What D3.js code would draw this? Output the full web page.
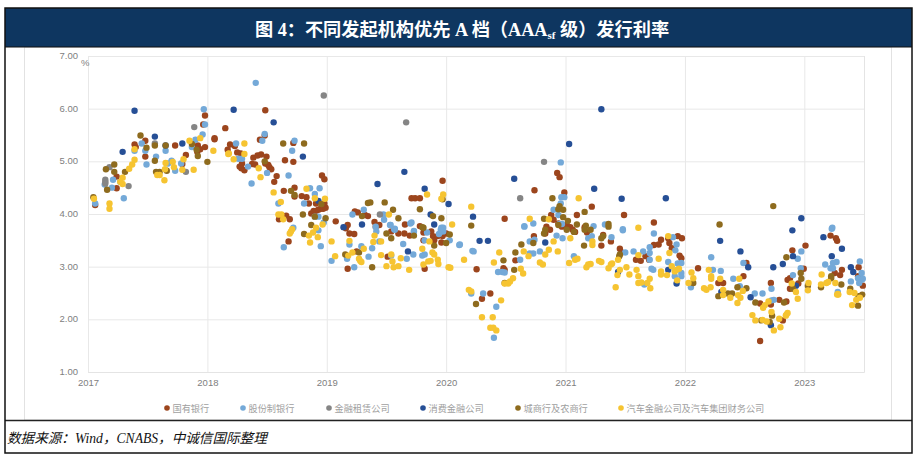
<!DOCTYPE html>
<html><head><meta charset="utf-8">
<script src="https://cdn.jsdelivr.net/npm/d3@7/dist/d3.min.js"></script>
<style>html,body{margin:0;padding:0;background:#fff}svg{display:block}</style>
</head><body><svg id="c" width="915" height="456"></svg>
<script>
// Each point: [years since start of 2017, rate in %]
const stateBanks = [[.06,4.17],[.24,4.71],[.24,4.49],[.39,5.32],[.40,5.27],[.48,5.39],[.48,5.09],[.73,5.30],[.79,4.95],[.82,5.12],[.92,5.30],[.94,5.23],[.98,5.27],[.915,5.18],[.965,5.70],[.98,5.87],[1.06,5.44],[1.06,5.42],[1.15,5.63],[1.17,5.22],[1.19,5.32],[1.23,5.29],[1.25,5.17],[1.28,5.15],[1.27,4.90],[1.29,4.96],[1.31,4.83],[1.285,4.87],[1.375,4.95],[1.40,4.94],[1.385,5.07],[1.42,5.11],[1.45,5.13],[1.495,5.09],[1.485,4.96],[1.51,4.93],[1.52,4.89],[1.535,4.85],[1.44,5.41],[1.48,5.49],[1.485,5.97],[1.58,4.72],[1.56,4.61],[1.64,4.44],[1.65,5.02],[1.72,4.99],[1.72,5.35],[1.73,4.50],[1.73,4.33],[1.79,4.34],[1.83,4.32],[1.85,4.20],[1.91,4.20],[1.87,4.01],[1.89,4.06],[1.91,4.06],[1.93,4.08],[1.95,4.10],[1.97,4.10],[1.99,4.12],[1.96,4.73],[1.98,4.66],[1.98,4.20],[1.66,3.97],[1.60,3.90],[1.69,3.90],[2.075,3.86],[2.175,3.79],[2.235,4.05],[2.26,4.03],[2.32,3.98],[2.345,3.96],[2.40,3.85],[2.44,3.79],[2.655,3.80],[2.71,4.30],[2.74,4.30],[2.78,4.30],[2.97,4.63],[1.68,3.48],[2.175,2.96],[2.82,2.96],[2.51,3.19],[2.19,3.63],[2.23,3.62],[2.25,3.29],[2.16,3.73],[2.54,3.67],[2.60,3.63],[2.65,3.63],[2.695,3.59],[2.81,3.50],[2.81,3.65],[2.875,3.67],[2.89,3.58],[2.90,3.50],[2.93,3.58],[2.96,3.46],[2.97,3.58],[3.0,3.63],[2.41,3.76],[2.78,3.77],[3.255,2.95],[3.30,2.39],[3.37,2.49],[3.49,3.91],[3.49,2.94],[3.58,3.12],[3.735,3.58],[3.74,4.45],[3.48,2.97],[3.93,4.78],[3.95,4.70],[3.99,4.41],[4.095,3.98],[4.22,4.14],[4.49,3.98],[4.74,3.84],[3.88,3.98],[3.90,3.89],[3.83,3.63],[3.87,3.70],[3.97,3.76],[4.01,3.79],[4.04,3.75],[4.06,3.70],[3.94,3.82],[3.84,3.76],[4.08,3.66],[4.16,3.75],[4.18,3.65],[4.30,3.40],[4.315,3.60],[4.38,3.48],[4.455,3.34],[4.47,3.27],[4.59,3.13],[4.63,3.11],[4.67,3.20],[4.70,3.13],[4.74,3.41],[4.78,3.42],[4.80,3.51],[4.86,3.54],[4.89,3.35],[4.87,3.45],[4.94,3.58],[4.975,3.54],[4.955,3.21],[4.97,3.16],[5.11,2.97],[5.28,2.69],[5.32,2.69],[5.49,2.82],[5.515,3.07],[5.63,1.59],[5.63,2.30],[5.72,2.69],[5.72,2.28],[5.79,2.37],[5.85,2.34],[5.82,1.98],[5.86,2.75],[5.88,2.78],[5.88,2.58],[5.90,3.31],[6.01,3.40],[5.995,2.96],[5.95,2.68],[6.22,3.59],[6.265,3.54],[6.275,3.49],[6.255,2.88],[6.315,2.94],[6.30,2.84],[6.455,2.99],[6.49,2.64],[6.45,2.82]];
const jointStockBanks = [[.06,4.20],[.30,4.30],[.21,4.65],[.14,4.56],[.20,4.5],[.27,4.61],[.39,5.20],[.45,5.34],[.48,5.20],[.49,4.94],[.57,5.09],[.65,5.20],[.67,4.96],[.70,5.01],[.73,4.82],[.78,4.96],[.87,5.27],[.90,5.41],[.96,5.51],[.97,5.99],[.98,5.70],[1.24,5.34],[1.26,5.05],[1.29,5.05],[1.34,4.90],[1.37,4.58],[1.405,6.49],[1.48,5.52],[1.46,5.39],[1.50,4.78],[1.68,4.73],[1.71,5.20],[1.73,5.39],[1.595,4.20],[1.86,4.49],[1.94,4.49],[1.90,4.38],[1.81,4.20],[1.72,3.74],[1.90,3.95],[1.93,3.95],[1.975,3.84],[2.215,3.99],[2.31,4.08],[2.41,3.76],[2.48,3.89],[2.475,3.99],[2.535,3.79],[2.57,3.72],[2.71,3.84],[2.96,3.74],[2.975,3.74],[1.64,3.37],[1.95,3.39],[2.04,3.11],[2.19,3.42],[2.17,3.15],[2.23,2.99],[2.29,3.39],[2.35,3.19],[2.38,3.35],[2.44,3.48],[2.54,3.21],[2.64,3.43],[2.67,3.15],[2.725,3.23],[2.80,3.21],[2.82,3.23],[2.82,3.50],[2.84,3.65],[2.96,3.67],[2.975,3.67],[3.03,3.50],[3.11,3.41],[2.73,3.67],[2.415,3.67],[2.57,3.70],[1.93,3.69],[2.70,3.82],[2.53,3.79],[2.565,3.71],[3.22,3.30],[2.955,3.70],[2.94,3.62],[2.73,3.68],[3.115,3.42],[3.23,3.29],[3.31,2.49],[3.21,2.49],[3.42,2.24],[3.40,1.65],[3.435,2.90],[3.47,2.90],[3.49,2.89],[3.62,3.13],[3.655,3.76],[3.73,3.25],[3.70,3.25],[3.785,3.29],[3.74,3.51],[3.70,3.48],[3.975,3.54],[3.925,3.59],[4.07,3.20],[4.19,3.54],[4.22,3.58],[4.385,3.56],[4.48,3.69],[4.50,3.27],[4.57,3.29],[4.65,3.29],[4.705,3.37],[4.705,3.26],[4.74,3.63],[4.705,3.13],[4.72,2.96],[4.735,2.94],[4.66,2.66],[4.86,3.09],[4.90,3.56],[4.93,3.42],[4.92,3.31],[4.94,3.06],[4.97,3.07],[4.97,2.88],[4.97,2.82],[4.915,2.82],[5.05,2.61],[5.22,3.18],[5.235,2.94],[5.30,2.92],[5.405,2.77],[5.49,3.07],[5.46,2.63],[5.585,2.49],[5.65,2.49],[5.725,2.58],[5.725,2.36],[5.745,2.37],[5.905,2.84],[5.945,3.15],[5.975,3.29],[5.97,2.97],[6.23,3.72],[6.175,3.04],[6.22,2.97],[6.24,2.97],[6.27,3.09],[6.24,3.07],[6.28,2.52],[6.39,2.72],[6.465,3.10],[6.48,2.88],[6.45,2.78],[6.48,2.75],[6.49,2.77],[6.46,2.69],[3.96,4.98],[3.965,4.32],[3.99,4.32],[3.96,4.20],[3.90,4.08],[3.73,3.82],[3.655,3.77],[6.235,3.74],[4.235,3.77],[4.33,3.80],[3.94,3.98],[3.95,3.81],[3.97,3.81],[4.48,3.71]];
const leasingCos = [[.145,4.65],[.145,4.61],[.145,4.58],[.18,4.89],[.34,4.53],[.56,5.34],[.82,4.80],[.89,5.65],[1.975,6.25],[2.665,5.74],[2.445,3.99],[3.82,4.99],[3.62,4.30]];
const consumerFinance = [[.29,5.18],[.39,5.96],[.56,5.47],[.65,5.30],[.79,5.34],[1.22,5.98],[1.555,5.74],[1.80,5.09],[1.93,4.25],[2.14,3.75],[2.295,3.80],[2.425,4.57],[2.65,4.80],[2.82,4.48],[2.87,3.99],[2.90,3.80],[3.02,4.19],[2.68,3.29],[3.225,3.95],[3.28,3.49],[3.35,3.49],[3.57,4.67],[3.83,3.46],[4.30,5.99],[4.03,5.33],[4.24,4.48],[4.47,4.29],[4.84,4.30],[5.975,3.92],[5.90,3.69],[5.295,3.49],[5.465,3.29],[5.53,2.99],[5.55,2.42],[5.74,2.99],[5.82,3.05],[5.72,1.89],[5.905,3.20],[5.93,2.64],[6.16,3.56],[6.23,3.20],[6.315,3.34],[6.39,2.99],[6.41,2.90],[4.93,2.68],[4.86,2.94],[4.44,2.90],[5.305,2.52]];
const cityRuralBanks = [[.045,4.32],[.15,4.85],[.22,4.94],[.22,4.80],[.16,4.46],[.31,4.80],[.44,5.49],[.49,5.26],[.56,5.30],[.56,5.01],[.57,4.80],[.60,4.80],[.65,5.30],[.66,4.82],[.91,5.22],[.92,5.10],[.87,5.33],[1.00,4.99],[1.48,5.0],[1.635,5.34],[1.81,5.34],[1.70,4.44],[1.73,4.36],[1.80,3.99],[1.90,3.95],[1.955,4.19],[1.99,3.92],[1.87,3.79],[2.295,3.96],[2.345,4.21],[2.365,4.22],[2.485,4.22],[2.555,4.08],[2.60,3.92],[2.78,4.09],[2.96,3.92],[2.97,4.28],[2.81,3.74],[1.81,3.62],[2.155,3.23],[2.27,3.27],[2.38,2.99],[2.50,3.63],[2.54,3.54],[2.73,3.59],[2.90,3.40],[3.0,3.45],[3.03,3.61],[2.80,3.75],[2.89,3.96],[3.21,3.78],[3.25,2.29],[3.48,3.12],[3.49,2.69],[3.58,3.27],[3.57,2.94],[3.63,3.42],[3.73,3.45],[3.89,4.30],[4.16,4.04],[3.95,4.15],[3.94,4.09],[3.98,4.08],[3.98,3.94],[4.02,3.87],[4.095,3.80],[4.17,3.78],[4.36,3.81],[4.36,3.76],[3.82,3.91],[3.83,3.70],[3.82,3.63],[3.94,3.79],[4.01,3.70],[4.07,3.66],[4.16,3.70],[4.21,3.70],[4.30,3.54],[4.315,3.58],[4.155,3.40],[4.455,3.23],[4.45,3.20],[5.29,3.80],[5.74,4.15],[5.07,2.69],[5.28,2.44],[5.36,2.49],[5.395,2.49],[5.44,2.61],[5.515,2.59],[5.59,2.32],[5.64,1.98],[5.71,1.95],[5.73,2.07],[5.83,2.32],[5.85,3.18],[5.905,2.58],[5.97,2.88],[5.975,2.77],[6.03,2.64],[6.14,2.61],[6.225,2.82],[6.225,2.78],[6.31,2.66],[6.385,2.58],[6.45,2.26],[6.455,2.44],[6.485,2.47]];
const autoFinance = [[.05,4.29],[.18,4.20],[.18,4.10],[.27,4.61],[.29,4.57],[.29,4.69],[.345,4.86],[.37,4.94],[.39,5.03],[.39,5.23],[.60,4.74],[.58,4.74],[.64,4.64],[.645,4.85],[.65,4.97],[.71,4.99],[.72,4.89],[.79,4.84],[.80,5.04],[.885,4.84],[.85,5.39],[.94,5.44],[1.05,5.20],[1.18,5.15],[1.175,5.14],[1.22,5.04],[1.31,5.34],[1.31,5.14],[1.43,4.87],[1.445,4.70],[1.555,4.41],[1.615,4.23],[1.595,3.99],[1.62,3.99],[1.635,3.90],[1.71,3.71],[1.83,4.48],[1.90,4.30],[1.985,4.29],[1.91,3.74],[1.965,3.80],[2.52,3.99],[2.84,4.37],[2.96,4.29],[2.975,4.37],[3.05,3.80],[1.70,3.67],[1.69,3.63],[1.86,3.46],[1.85,3.59],[1.885,3.65],[1.925,3.56],[2.04,3.48],[2.07,3.20],[2.19,3.49],[2.18,3.21],[2.215,3.27],[2.31,3.34],[2.27,3.15],[2.28,3.11],[2.29,3.09],[2.39,3.47],[2.40,3.59],[2.455,3.48],[2.455,3.22],[2.50,3.01],[2.54,3.23],[2.55,3.10],[2.56,2.99],[2.60,3.01],[2.62,3.16],[2.69,2.94],[2.80,3.34],[2.81,3.04],[2.85,3.10],[2.87,3.11],[2.885,3.27],[2.90,3.23],[2.93,3.13],[2.935,3.05],[2.86,3.48],[3.02,2.99],[3.035,2.98],[3.21,4.14],[4.11,4.30],[3.70,3.91],[3.86,3.90],[4.61,3.74],[3.15,3.13],[3.19,2.56],[3.21,2.53],[3.30,2.04],[3.39,2.04],[3.37,1.84],[3.395,1.84],[3.42,1.79],[3.46,2.36],[3.40,3.08],[3.445,3.27],[3.49,2.68],[3.52,2.68],[3.535,2.72],[3.56,2.78],[3.625,2.96],[3.645,2.87],[3.65,3.29],[3.69,3.20],[3.785,3.08],[3.81,3.04],[3.83,3.23],[3.86,3.32],[3.90,3.48],[3.935,3.29],[4.04,3.54],[4.03,3.07],[4.08,3.13],[4.10,3.15],[4.175,2.99],[4.19,3.04],[4.21,3.05],[4.28,3.11],[4.30,3.09],[4.36,2.97],[4.38,3.04],[4.39,3.06],[4.225,3.48],[4.225,3.41],[4.42,2.61],[4.435,2.84],[4.455,2.94],[4.44,3.13],[4.51,2.99],[4.535,2.85],[4.595,2.94],[4.61,2.82],[4.61,3.22],[4.61,2.69],[4.635,2.70],[4.685,2.69],[4.705,2.77],[4.71,2.59],[4.78,3.15],[4.80,2.91],[4.80,2.85],[4.85,2.84],[4.86,3.58],[4.87,3.26],[4.89,3.01],[4.915,2.91],[4.93,2.94],[4.95,2.96],[4.935,2.74],[5.03,2.69],[5.055,2.89],[5.07,2.78],[5.16,2.59],[5.18,2.56],[5.215,2.61],[5.20,2.94],[5.22,2.82],[5.22,2.77],[5.295,2.77],[5.32,2.56],[5.32,2.46],[5.38,2.41],[5.44,2.31],[5.455,2.77],[5.445,2.46],[5.465,2.41],[5.485,2.54],[5.565,2.08],[5.59,1.98],[5.655,2.22],[5.67,2.27],[5.70,2.34],[5.65,1.99],[5.685,1.96],[5.725,2.14],[5.745,1.79],[5.80,1.85],[5.79,2.01],[5.85,2.09],[5.845,2.07],[5.86,2.12],[5.895,2.68],[5.93,2.52],[5.945,2.39],[6.035,2.69],[6.03,2.55],[6.14,2.66],[6.145,2.85],[6.185,2.69],[6.20,2.71],[6.26,2.69],[6.28,2.48],[6.275,2.47],[6.285,2.47],[6.38,2.52],[6.42,2.50],[6.40,2.27],[6.435,2.37],[6.465,2.41]];

const seriesNames = ["国有银行","股份制银行","金融租赁公司","消费金融公司","城商行及农商行","汽车金融公司及汽车集团财务公司"];
const seriesData = [stateBanks,jointStockBanks,leasingCos,consumerFinance,cityRuralBanks,autoFinance];
const seriesColors = ["#9C451D","#74A9D8","#858585","#264F96","#8E6B1E","#F6C431"];
const legendSwatchX = [167,243,329,423,518,621];
const yearLabels = ["2017","2018","2019","2020","2021","2022","2023"];
const yTicks = [1,2,3,4,5,6,7];

const svg = d3.select("#c");
const cjk = '"Noto Sans CJK SC","Noto Sans",sans-serif';
const serifCjk = '"Liberation Serif","Noto Sans CJK SC",serif';
const x = d3.scaleLinear().domain([0,6.5]).range([88,864]);
const y = d3.scaleLinear().domain([1,7]).range([372,56]);

// panel + title band
svg.append("rect").attr("x",24.5).attr("y",47).attr("width",867).attr("height",373).attr("fill","#fff").attr("stroke","#e2e2e2");
svg.append("rect").attr("x",5).attr("y",8).attr("width",907).attr("height",39).attr("fill","#0E3660");

// grid and axes
const gy = svg.append("g").attr("transform","translate(88,0)")
  .call(d3.axisLeft(y).tickValues(yTicks).tickFormat(d3.format(".2f")).tickSize(-776).tickPadding(10));
const gx = svg.append("g").attr("transform","translate(0,372)")
  .call(d3.axisBottom(x).tickValues(yearLabels.map((_,i)=>i)).tickFormat((_,i)=>yearLabels[i]).tickSize(-316).tickPadding(7));
[gy,gx].forEach(g=>{
  g.select(".domain").attr("stroke","#e4e4e4");
  g.selectAll(".tick line").attr("stroke","#e8e8e8");
  g.selectAll(".tick text").attr("fill","#808080").attr("font-size",9.5).attr("font-family",'"Liberation Sans",sans-serif');
});
gy.selectAll(".tick text").attr("dy","0.25em");
svg.append("text").attr("x",81).attr("y",66).attr("fill","#808080").attr("font-size",9.5)
  .attr("font-family",'"Liberation Sans",sans-serif').text("%");

// points
seriesData.forEach((pts,i)=>{
  svg.append("g").selectAll("circle").data(pts).join("circle")
    .attr("cx",d=>x(d[0])).attr("cy",d=>y(d[1])).attr("r",3.2).attr("fill",seriesColors[i]);
});

// legend
seriesNames.forEach((n,i)=>{
  svg.append("circle").attr("cx",legendSwatchX[i]).attr("cy",408).attr("r",2.8).attr("fill",seriesColors[i]);
  svg.append("text").attr("x",legendSwatchX[i]+5.5).attr("y",411.5).attr("font-size",9.2).attr("fill","#a0a0a0")
    .attr("font-family",cjk).text(n);
});

// title
const t = svg.append("text").attr("x",462).attr("y",36).attr("text-anchor","middle").attr("fill","#fff")
  .attr("font-size",18.2).attr("font-weight",700).attr("font-family",serifCjk);
t.append("tspan").text("图 4：不同发起机构优先 A 档（AAA");
t.append("tspan").attr("font-size",11).attr("dy",3).text("sf");
t.append("tspan").attr("dy",-3).text(" 级）发行利率");

// source row and frame
svg.append("text").attr("x",7).attr("y",443).attr("font-size",13.6).attr("font-style","italic").attr("fill","#111")
  .attr("font-family",serifCjk).text("数据来源：Wind，CNABS，中诚信国际整理");
svg.append("line").attr("x1",5).attr("x2",912).attr("y1",420.5).attr("y2",420.5).attr("stroke","#222").attr("stroke-width",1.5);
svg.append("line").attr("x1",5).attr("x2",912).attr("y1",47).attr("y2",47).attr("stroke","#111").attr("stroke-width",1);
svg.append("rect").attr("x",5).attr("y",8).attr("width",907).attr("height",445).attr("fill","none").attr("stroke","#111").attr("stroke-width",1.5);
</script></body></html>
